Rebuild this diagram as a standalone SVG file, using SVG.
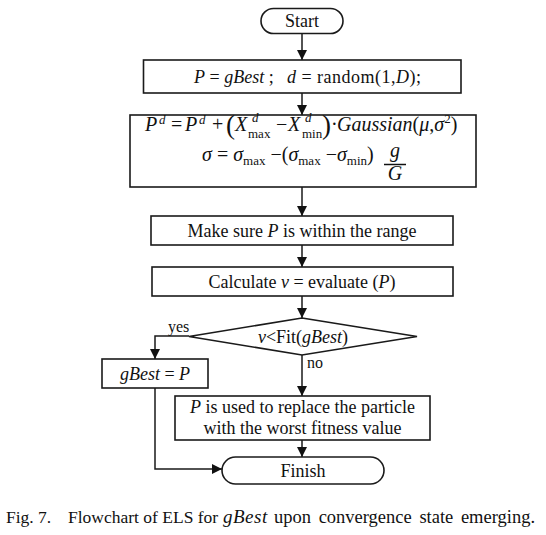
<svg xmlns="http://www.w3.org/2000/svg" width="546" height="535" viewBox="0 0 546 535">
<style>
.box{fill:#fff;stroke:#1a1a1a;stroke-width:1.6}
.ln{fill:none;stroke:#1a1a1a;stroke-width:1.5}
text{font-family:"Liberation Serif","Times New Roman",serif;fill:#111;font-size:18px}
.c{text-anchor:middle}
.i{font-style:italic}
.eq{font-size:20px}
.sm{font-size:13px}
.cap{font-size:17.5px}
</style>
<defs>
<marker id="ah" viewBox="0 0 10 10" refX="10" refY="5" markerWidth="10" markerHeight="10" markerUnits="userSpaceOnUse" orient="auto">
<path d="M0,0 L10,5 L0,10 z" fill="#111"/>
</marker>
</defs>
<rect width="546" height="535" fill="#fff"/>
<g id="connectors">
<line class="ln" x1="302" y1="33" x2="302" y2="60" marker-end="url(#ah)"/>
<line class="ln" x1="302" y1="93" x2="302" y2="115" marker-end="url(#ah)"/>
<line class="ln" x1="302" y1="187" x2="302" y2="216" marker-end="url(#ah)"/>
<line class="ln" x1="302" y1="245" x2="302" y2="267" marker-end="url(#ah)"/>
<line class="ln" x1="302" y1="296" x2="302" y2="318" marker-end="url(#ah)"/>
<line class="ln" x1="302" y1="355" x2="302" y2="396" marker-end="url(#ah)"/>
<polyline class="ln" points="189,336 155,336 155,359" marker-end="url(#ah)"/>
<line class="ln" x1="302" y1="440" x2="302" y2="457" marker-end="url(#ah)"/>
<polyline class="ln" points="155,388 155,469 222,469" marker-end="url(#ah)"/>
<text x="168" y="332" style="font-size:16px">yes</text>
<text x="307" y="368" style="font-size:16px">no</text>
</g>
<g id="start">
<rect class="box" x="261" y="8.5" width="82" height="25" rx="12.5"/>
<text class="c" x="302" y="27">Start</text>
</g>
<g id="init">
<rect class="box" x="143.5" y="60" width="317.5" height="33"/>
<text x="194" y="83"><tspan class="i">P</tspan> = <tspan class="i">gBest</tspan> ;</text>
<text x="287" y="83" textLength="134" lengthAdjust="spacing"><tspan class="i">d</tspan> = random(1,<tspan class="i">D</tspan>);</text>
</g>
<g id="update">
<rect class="box" x="130" y="115" width="346" height="72"/>
<text class="eq i" x="145" y="131">P</text>
<text class="sm i" x="159" y="124">d</text>
<text class="eq" x="171" y="131">=</text>
<text class="eq i" x="185" y="131">P</text>
<text class="sm i" x="199" y="124">d</text>
<text class="eq" x="212" y="131">+</text>
<text x="226" y="134" style="font-size:27px">(</text>
<text class="eq i" x="235" y="131">X</text>
<text class="sm i" x="252" y="122">d</text>
<text class="sm" x="248" y="138">max</text>
<text class="eq" x="276" y="131">−</text>
<text class="eq i" x="288" y="131">X</text>
<text class="sm i" x="305" y="122">d</text>
<text class="sm" x="302" y="138">min</text>
<text x="322" y="134" style="font-size:27px">)</text>
<text class="eq" x="331" y="131">·</text>
<text class="eq" x="337" y="131"><tspan class="i">Gaussian</tspan>(<tspan class="i">μ</tspan>,<tspan class="i">σ</tspan><tspan class="sm" dy="-8">2</tspan><tspan dy="8">)</tspan></text>
<text class="eq" x="202" y="161"><tspan class="i">σ</tspan> = <tspan class="i">σ</tspan><tspan class="sm" dy="4">max</tspan><tspan dy="-4"> −(</tspan><tspan class="i">σ</tspan><tspan class="sm" dy="4">max</tspan><tspan dy="-4"> −</tspan><tspan class="i">σ</tspan><tspan class="sm" dy="4">min</tspan><tspan dy="-4">)</tspan></text>
<text class="eq i c" x="395" y="157">g</text>
<line x1="384" y1="164.5" x2="406" y2="164.5" stroke="#111" stroke-width="1.5"/>
<text class="eq i c" x="395" y="180">G</text>
</g>
<g id="range">
<rect class="box" x="151" y="216" width="302" height="29"/>
<text class="c" x="302" y="236.5">Make sure <tspan class="i">P</tspan> is within the range</text>
</g>
<g id="evaluate">
<rect class="box" x="152" y="267" width="301" height="29"/>
<text class="c" x="302" y="287.5">Calculate <tspan class="i">v</tspan> = evaluate (<tspan class="i">P</tspan>)</text>
</g>
<g id="decision">
<polygon class="box" points="302,318 417,336.5 302,355 189,336.5"/>
<text class="c" x="303" y="342.5"><tspan class="i">v</tspan>&lt;Fit(<tspan class="i">gBest</tspan>)</text>
</g>
<g id="setbest">
<rect class="box" x="102" y="359" width="106" height="29"/>
<text class="c" x="155" y="380"><tspan class="i">gBest</tspan> = <tspan class="i">P</tspan></text>
</g>
<g id="replace">
<rect class="box" x="175" y="396" width="255" height="44"/>
<text class="c" x="302.5" y="413"><tspan class="i">P</tspan> is used to replace the particle</text>
<text class="c" x="302.5" y="434">with the worst fitness value</text>
</g>
<g id="finish">
<rect class="box" x="222" y="457" width="162" height="27" rx="13.5"/>
<text class="c" x="303" y="476.5">Finish</text>
</g>
<g id="caption">
<text class="cap" x="6" y="523">Fig. 7.</text>
<text class="cap" x="68" y="523">Flowchart of ELS for</text>
<text class="cap i" x="223" y="523" style="font-size:19px;letter-spacing:0.5px">gBest</text>
<text class="cap" x="274" y="523" style="font-size:18.5px;word-spacing:3px">upon convergence state emerging.</text>
</g>
</svg>
